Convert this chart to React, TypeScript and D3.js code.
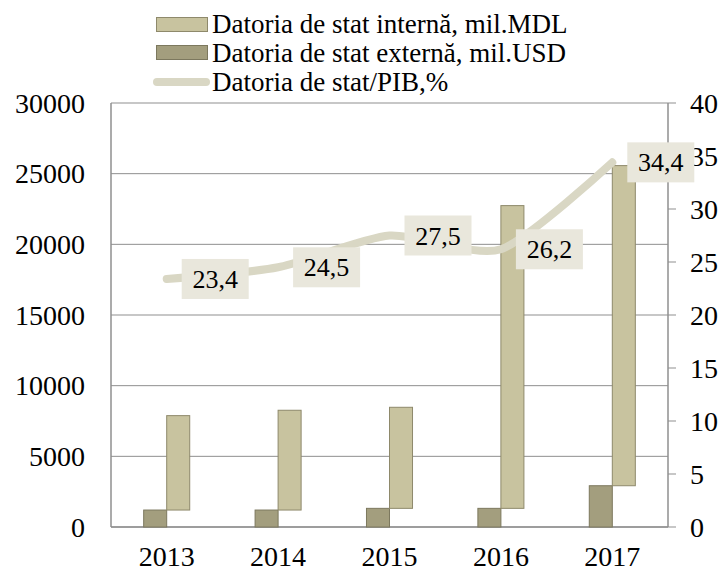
import React from "react";
import * as d3 from "d3";

const years = ["2013", "2014", "2015", "2016", "2017"];
const externalDebt = [1200, 1200, 1320, 1320, 2920]; // mil. USD
const internalDebt = [6680, 7060, 7150, 21420, 22650]; // mil. MDL (drawn stacked above external)
const debtToGdp = [23.4, 24.5, 27.5, 26.2, 34.4];
const leftTicks = [0, 5000, 10000, 15000, 20000, 25000, 30000];
const rightTicks = [0, 5, 10, 15, 20, 25, 30, 35, 40];
const legendLabels = [
  "Datoria de stat internă, mil.MDL",
  "Datoria de stat externă, mil.USD",
  "Datoria de stat/PIB,%",
];

const W = 723;
const H = 572;
const L = 111;
const R = 668;
const T = 103;
const B = 527;

const FONT = "'Liberation Serif', 'Times New Roman', serif";
const C_INT = "#c8c39f";
const C_INT_S = "#8e896b";
const C_EXT = "#a39e7e";
const C_EXT_S = "#7c785e";
const C_LINE = "#d9d7c4";
const C_BOX = "#e9e7dc";
const C_GRID = "#8f8f8f";

export default function App() {
  const x = d3.scaleBand<string>().domain(years).range([L, R]).padding(0);
  const bw = x.bandwidth();
  const sub = d3.scaleBand<string>().domain(["ext", "int"]).range([0, bw]).paddingInner(0).paddingOuter(1.42);
  const yL = d3.scaleLinear().domain([0, 30000]).range([B, T]);
  const yR = d3.scaleLinear().domain([0, 40]).range([B, T]);

  const pts: [number, number][] = years.map((yr, i) => [x(yr)! + bw / 2, yR(debtToGdp[i])]);
  const line = d3.line().curve(d3.curveCardinal.tension(0.3))(pts) || "";

  const boxW = 67;
  const boxH = 40;

  return (
    <svg width={W} height={H} style={{ display: "block", position: "absolute", left: 0, top: 0 }} fontFamily={FONT}>
      <rect x={0} y={0} width={W} height={H} fill="#fff" />
      {/* legend */}
      <g>
        <rect x={156.5} y={17.5} width={51} height={14} fill={C_INT} stroke={C_INT_S} />
        <rect x={156.5} y={45.5} width={51} height={14} fill={C_EXT} stroke={C_EXT_S} />
        <line x1={157} x2={206} y1={82} y2={82} stroke={C_LINE} strokeWidth={8} strokeLinecap="round" />
        {legendLabels.map((t, i) => (
          <text key={t} x={212} y={24.5 + i * 28.8} dy="0.33em" fontSize={27} fill="#000">
            {t}
          </text>
        ))}
      </g>
      {/* gridlines */}
      {leftTicks.map((t) => (
        <line key={t} x1={L} x2={R} y1={yL(t)} y2={yL(t)} stroke={C_GRID} strokeWidth={1} />
      ))}
      {/* axes */}
      <line x1={L} x2={L} y1={T} y2={B} stroke={C_GRID} strokeWidth={1.5} />
      <line x1={R} x2={R} y1={T} y2={B} stroke={C_GRID} strokeWidth={1.5} />
      <line x1={L} x2={R} y1={B} y2={B} stroke={C_GRID} strokeWidth={1.5} />
      {rightTicks.map((t) => (
        <line key={t} x1={R} x2={R + 8} y1={yR(t)} y2={yR(t)} stroke={C_GRID} strokeWidth={1} />
      ))}
      {/* left tick labels */}
      {leftTicks.map((t) => (
        <text key={t} x={85} y={yL(t)} dy="0.35em" textAnchor="end" fontSize={28} fill="#000">
          {t}
        </text>
      ))}
      {/* right tick labels */}
      {rightTicks.map((t) => (
        <text key={t} x={690} y={yR(t)} dy="0.35em" textAnchor="start" fontSize={28} fill="#000">
          {t}
        </text>
      ))}
      {/* x labels */}
      {years.map((yr) => (
        <text key={yr} x={x(yr)! + bw / 2} y={556} dy="0.35em" textAnchor="middle" fontSize={28} fill="#000">
          {yr}
        </text>
      ))}
      {/* bars */}
      {years.map((yr, i) => {
        const x0 = x(yr)!;
        const ext = externalDebt[i];
        const top = ext + internalDebt[i];
        return (
          <g key={yr}>
            <rect
              x={x0 + sub("ext")!}
              y={yL(ext)}
              width={sub.bandwidth()}
              height={yL(0) - yL(ext)}
              fill={C_EXT}
              stroke={C_EXT_S}
              strokeWidth={1}
            />
            <rect
              x={x0 + sub("int")!}
              y={yL(top)}
              width={sub.bandwidth()}
              height={yL(ext) - yL(top)}
              fill={C_INT}
              stroke={C_INT_S}
              strokeWidth={1}
            />
          </g>
        );
      })}
      {/* line */}
      <path d={line} fill="none" stroke={C_LINE} strokeWidth={8} strokeLinecap="round" strokeLinejoin="round" />
      {/* data labels */}
      {pts.map(([px, py], i) => (
        <g key={i}>
          <rect x={px + 15} y={py - boxH / 2} width={boxW} height={boxH} fill={C_BOX} />
          <text x={px + 15 + boxW / 2} y={py} dy="0.35em" textAnchor="middle" fontSize={26} fill="#000">
            {debtToGdp[i].toFixed(1).replace(".", ",")}
          </text>
        </g>
      ))}
    </svg>
  );
}
